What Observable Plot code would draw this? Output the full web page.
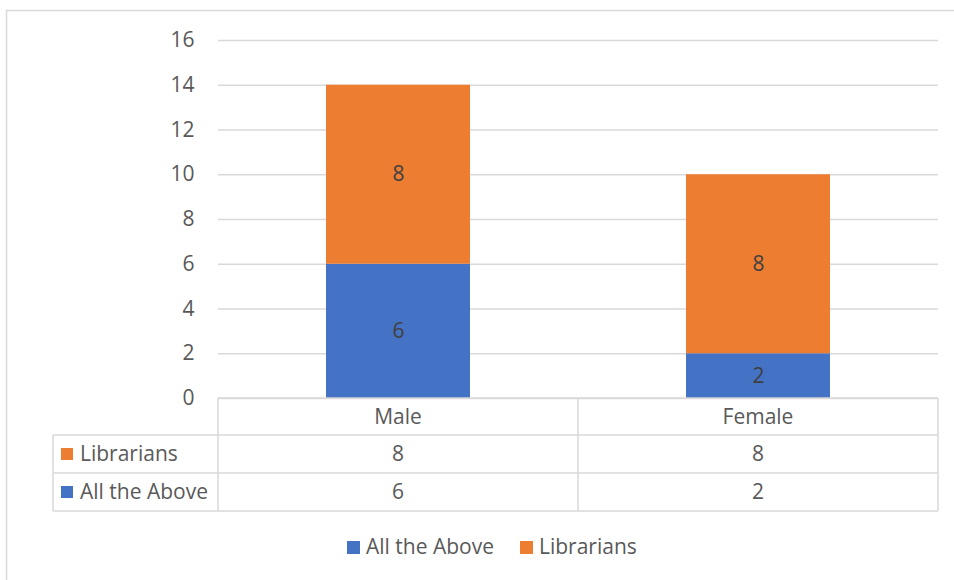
<!DOCTYPE html>
<html><head><meta charset="utf-8">
<script src="https://cdn.jsdelivr.net/npm/d3@7"></script>
<script src="https://cdn.jsdelivr.net/npm/@observablehq/plot@0.6"></script>
<style>body{margin:0;background:#fff;overflow:hidden}</style>
</head><body><div id="chart"></div>
<script>
const categories = ["Male", "Female"];
const seriesNames = ["All the Above", "Librarians"];
const allTheAbove = [6, 2];
const librarians = [8, 8];
const yTicks = [0, 2, 4, 6, 8, 10, 12, 14, 16];
const seriesColors = ["#4472C4", "#ED7D31"];

const seriesValues = [allTheAbove, librarians];
const data = categories.flatMap((c, i) => seriesNames.map((s, j) => ({category: c, series: s, value: seriesValues[j][i]})));

const FONT = "'Open Sans', Lato, sans-serif";
const TXT = "#595959";
const LINE = "#D9D9D9";
const NUM = 21, WORD = 21;

const plot = Plot.plot({
  width: 954, height: 580,
  marginLeft: 218, marginRight: 16, marginTop: 40, marginBottom: 182,
  style: {fontFamily: FONT, fontSize: NUM + "px", color: TXT, background: "#fff"},
  x: {domain: categories, paddingInner: 0.6, paddingOuter: 0.3, axis: null},
  y: {domain: [0, 16], ticks: yTicks},
  color: {domain: seriesNames, range: seriesColors},
  marks: [
    Plot.gridY(yTicks, {stroke: LINE, strokeOpacity: 1, strokeWidth: 1.5}),
    Plot.axisY(yTicks, {tickSize: 0, tickPadding: 24, fontSize: NUM, fill: TXT, label: null}),
    Plot.barY(data, Plot.stackY({x: "category", y: "value", fill: "series"})),
    Plot.text(data, Plot.stackY({x: "category", y: "value", text: "value", fill: "#404040", fontSize: NUM}))
  ]
});
document.getElementById("chart").appendChild(plot);

const svg = d3.select(plot);
const xs = plot.scale("x");
const step = xs.step, bw = xs.bandwidth;
const colLeft = c => xs.apply(c) - (step - bw) / 2;
const yTop = 398, rowH = [37, 38, 38];
const rowY = [yTop, yTop + rowH[0], yTop + rowH[0] + rowH[1], yTop + rowH[0] + rowH[1] + rowH[2]];
const tableLeft = 53;
const firstLeft = colLeft(categories[0]);
const lastRight = colLeft(categories[categories.length - 1]) + step;

const g = svg.append("g").attr("stroke", LINE).attr("stroke-width", 1.5).attr("fill", "none");
g.append("path").attr("d", `M6.5,600V10.5H960`);
g.append("line").attr("x1", firstLeft).attr("x2", lastRight).attr("y1", rowY[0]).attr("y2", rowY[0]);
for (let r = 1; r <= 3; r++) g.append("line").attr("x1", tableLeft).attr("x2", lastRight).attr("y1", rowY[r]).attr("y2", rowY[r]);
g.append("line").attr("x1", tableLeft).attr("x2", tableLeft).attr("y1", rowY[1]).attr("y2", rowY[3]);
categories.forEach(c => g.append("line").attr("x1", colLeft(c)).attr("x2", colLeft(c)).attr("y1", rowY[0]).attr("y2", rowY[3]));
g.append("line").attr("x1", lastRight).attr("x2", lastRight).attr("y1", rowY[0]).attr("y2", rowY[3]);

const t = svg.append("g").attr("font-family", FONT).attr("fill", TXT);
categories.forEach(c => t.append("text").attr("x", xs.apply(c) + bw / 2).attr("y", (rowY[0] + rowY[1]) / 2).attr("dy", "0.35em").attr("text-anchor", "middle").attr("font-size", WORD).text(c));
const rowSeries = [1, 0];
rowSeries.forEach((si, r) => {
  const cy = (rowY[r + 1] + rowY[r + 2]) / 2;
  t.append("rect").attr("x", 61).attr("y", cy - 6).attr("width", 12).attr("height", 12).attr("fill", seriesColors[si]);
  t.append("text").attr("x", 80).attr("y", cy).attr("dy", "0.35em").attr("text-anchor", "start").attr("font-size", WORD).text(seriesNames[si]);
  categories.forEach((c, ci) => t.append("text").attr("x", xs.apply(c) + bw / 2).attr("y", cy).attr("dy", "0.35em").attr("text-anchor", "middle").attr("font-size", NUM).text(seriesValues[si][ci]));
});
const lg = svg.append("g").attr("font-family", FONT).attr("font-size", WORD).attr("fill", TXT);
let lx = 347;
const ly = 547;
seriesNames.forEach((s, i) => {
  lg.append("rect").attr("x", lx).attr("y", ly - 6).attr("width", 13).attr("height", 13).attr("fill", seriesColors[i]);
  const tx = lg.append("text").attr("x", lx + 19).attr("y", ly).attr("dy", "0.35em").attr("text-anchor", "start").text(s);
  const w = tx.node().getComputedTextLength();
  lx = lx + 19 + w + 26;
});
</script></body></html>
